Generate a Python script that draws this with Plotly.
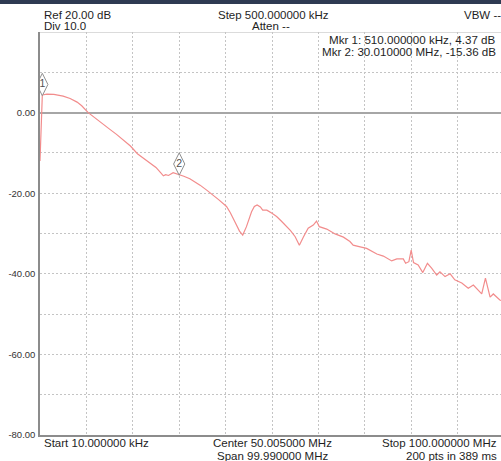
import plotly.graph_objects as go

# ---- data (frequency in MHz, level in dB) ----
freq_mhz = [0.01, 0.51, 1.5, 3.0, 5.0, 6.5, 8.0, 9.0, 10.4, 12.0, 13.5, 15.0, 16.5, 18.0,
            19.5, 21.0, 22.5, 24.0, 25.0, 26.0, 26.6, 27.1, 27.7, 28.7, 30.01, 31.0, 32.3,
            33.5, 34.5, 36.0, 37.3, 38.5, 40.2, 41.0, 42.0, 43.0, 43.7, 44.5, 45.6, 46.2,
            46.8, 47.5, 48.0, 48.9, 50.0, 51.0, 52.0, 53.2, 54.0, 55.0, 55.9, 56.8, 57.8,
            58.9, 59.6, 60.2, 61.8, 63.6, 65.4, 66.8, 67.5, 69.0, 70.4, 72.6, 74.0, 75.8,
            76.9, 78.3, 78.8, 79.5, 80.0, 80.5, 81.5, 82.5, 83.5, 84.4, 85.5, 86.2, 87.3,
            88.4, 89.4, 90.9, 92.3, 93.4, 95.2, 96.0, 97.0, 97.7, 99.1, 100.0]
level_db = [-12.0, 4.37, 4.6, 4.5, 4.1, 3.5, 2.6, 1.7, 0.0, -1.5, -2.9, -4.1, -5.4, -6.8,
            -8.3, -10.2, -11.5, -12.7, -13.6, -14.9, -15.7, -15.4, -15.6, -14.9, -15.36, -15.8, -16.4,
            -17.2, -18.0, -19.3, -20.4, -21.6, -23.3, -24.8, -27.1, -29.4, -30.4, -28.3, -24.6, -23.3,
            -22.9, -23.4, -24.2, -24.2, -25.0, -25.8, -26.9, -28.3, -29.3, -30.8, -32.9, -30.8, -28.7,
            -27.9, -26.9, -28.3, -28.9, -30.1, -30.9, -32.0, -32.9, -33.3, -33.7, -35.1, -35.6, -36.8,
            -36.3, -36.3, -37.4, -37.0, -34.1, -37.2, -37.8, -39.7, -37.4, -38.6, -40.3, -39.5, -40.7,
            -40.0, -41.5, -42.3, -43.6, -42.8, -45.0, -41.1, -45.8, -45.0, -46.5, -46.8]

marker_labels = ["1", "2"]
marker_freq = [0.51, 30.01]
marker_level = [4.37, -15.36]

y_ticks = [-80, -70, -60, -50, -40, -30, -20, -10, 0, 10, 20]
y_ticktext = ["-80.00", "", "-60.00", "", "-40.00", "", "-20.00", "", "0.00", "", ""]

header_left = ["Ref 20.00 dB", "Div 10.0"]
header_mid = ["Step 500.000000 kHz", "Atten --"]
header_right = "VBW --"
marker_readouts = ["Mkr 1: 510.000000 kHz, 4.37 dB", "Mkr 2: 30.010000 MHz, -15.36 dB"]
footer = ["Start 10.000000 kHz", "Center 50.005000 MHz", "Span 99.990000 MHz",
          "Stop 100.000000 MHz", "200 pts in 389 ms"]

START, STOP = 0.01, 100.0

# ---- layout geometry ----
W, H = 501, 461
L, T, B = 40, 32, 26
PW = W - L
PH = H - T - B
DIV_PX = 46.4          # width of one horizontal division in the reference
x_max = START + (STOP - START) * PW / (10 * DIV_PX)   # plot is cut off at the right edge
MARKER_LIFT_DB = 2.6


def px(x, y):
    return (x - L) / PW, (T + PH - y) / PH


fig = go.Figure()
fig.add_trace(go.Scatter(
    x=freq_mhz, y=level_db, mode="lines",
    line=dict(color="#f28c8c", width=1.2),
    hoverinfo="skip", showlegend=False, cliponaxis=True,
))
fig.add_trace(go.Scatter(
    x=marker_freq, y=[v + MARKER_LIFT_DB for v in marker_level],
    mode="markers+text", text=marker_labels, textposition="middle center",
    textfont=dict(size=10.5, color="#505050"),
    marker=dict(symbol="diamond-tall", size=16, color="white",
                line=dict(color="#8f8f8f", width=1)),
    hoverinfo="skip", showlegend=False, cliponaxis=True,
))

grid = dict(gridcolor="#c4c4c4", gridwidth=1, griddash="2px,2px")

fig.update_xaxes(range=[START, x_max], tick0=START, dtick=(STOP - START) / 10,
                 showticklabels=False, ticks="", zeroline=False,
                 showline=True, linecolor="#8c8c8c", linewidth=1.5, **grid)
fig.update_yaxes(range=[-80, 20], tickmode="array", tickvals=y_ticks, ticktext=y_ticktext,
                 ticks="", ticklabelstandoff=1,
                 tickfont=dict(size=9.5, color="#333333"),
                 zeroline=True, zerolinecolor="#a6a6a6", zerolinewidth=2,
                 showline=True, linecolor="#8c8c8c", linewidth=1.5, **grid)

ann = []


def add(text, x, y, xa, size=11.5):
    ax, ay = px(x, y)
    ann.append(dict(text=text, x=ax, y=ay, xref="paper", yref="paper",
                    xanchor=xa, yanchor="middle", showarrow=False,
                    font=dict(size=size, color="#1e1e1e")))


add(header_left[0], 42, 15, "left")
add(header_left[1], 42, 26, "left")
add(header_mid[0], 273, 15, "center")
add(header_mid[1], 271, 26, "center")
add(header_right, 462, 15, "left")
add(marker_readouts[0], 498, 39.5, "right", 11.6)
add(marker_readouts[1], 498, 51.5, "right", 11.6)
add(footer[0], 42, 443, "left")
add(footer[1], 272, 443, "center")
add(footer[2], 272, 456, "center")
add(footer[3], 499, 443, "right")
add(footer[4], 499, 456, "right")

bx0, by0 = px(0, 4)
bx1, by1 = px(W, 0)
shapes = [
    dict(type="rect", xref="paper", yref="paper", x0=bx0, x1=bx1, y0=by0, y1=by1,
         fillcolor="#2e3a52", line=dict(width=0), layer="above"),
    dict(type="line", xref="paper", yref="y", x0=0, x1=1, y0=20, y1=20,
         line=dict(color="#b8b8b8", width=1), layer="below"),
]

fig.update_layout(
    width=W, height=H,
    margin=dict(l=L, r=0, t=T, b=B, pad=0),
    paper_bgcolor="white", plot_bgcolor="white",
    font=dict(family="Liberation Sans, Arial, sans-serif", size=11.5, color="#1e1e1e"),
    annotations=ann, shapes=shapes, showlegend=False,
)

fig.write_html("out.html", config={"displayModeBar": False})
